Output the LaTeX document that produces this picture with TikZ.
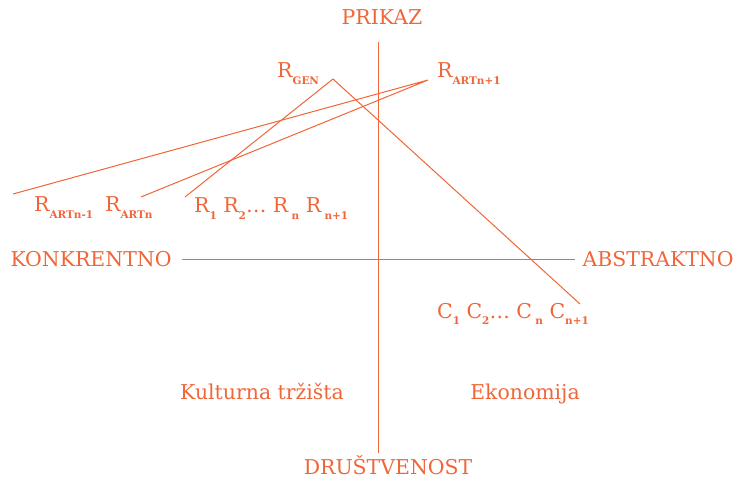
\documentclass[tikz,border=0pt]{standalone}
\usepackage{fontspec}
\setmainfont{DejaVu Serif}
\definecolor{ora}{RGB}{240,102,56}
\newcommand{\lowtxt}[1]{\raisebox{-6.5bp}{\fontsize{10.5}{10.5}\selectfont\bfseries #1}}
\begin{document}
\begin{tikzpicture}[x=1bp,y=-1bp,
  lab/.style={text=ora,font=\fontsize{20.5}{24}\selectfont,inner sep=0pt,anchor=base},
  ln/.style={draw=ora,line width=1bp}]
\useasboundingbox (0,0) rectangle (736,480);
% axis labels
\node[lab] (prikaz) at (382,25) {PRIKAZ};
\node[lab] (drus) at (388,474) {DRUŠTVENOST};
\node[lab] (konk) at (91,267) {KONKRENTNO};
\node[lab] (abs) at (658,267) {ABSTRAKTNO};
\node[lab] (kult) at (262,399) {Kulturna tržišta};
\node[lab] (eko) at (525,399) {Ekonomija};
% R and C labels
\node[lab,anchor=base west] (rgen) at (277,78) {R\lowtxt{GEN}};
\node[lab,anchor=base west] (rart1) at (437,78) {R\lowtxt{ARTn+1}};
\node[lab,anchor=base west] (rartm) at (34,212) {R\lowtxt{ARTn-1}};
\node[lab,anchor=base west] (rartn) at (105,212) {R\lowtxt{ARTn}};
\node[lab,anchor=base west] (rlist) at (194,213) {R\lowtxt{1} R\lowtxt{2}… R\,\lowtxt{n} R\,\lowtxt{n+1}};
\node[lab,anchor=base west] (clist) at (437,318) {C\lowtxt{1} C\lowtxt{2}… C\,\lowtxt{n} C\lowtxt{n+1}};
% axes
\coordinate (vtop) at (378,42);
\coordinate (vbot) at (378,453);
\coordinate (hl) at (182,260);
\coordinate (hr) at (575,260);
\draw[ln] (vtop) -- (vbot);
\draw[ln] (hl) -- (hr);
% connector apexes and ends
\coordinate (ag) at (333,79);
\coordinate (aa) at (428,80);
\coordinate (e1) at (13,194);
\coordinate (e2) at (141,197);
\coordinate (e3) at (185,197);
\coordinate (e4) at (580,304);
\draw[ln] (e1) -- (aa) -- (e2);
\draw[ln] (e3) -- (ag) -- (e4);
\end{tikzpicture}
\end{document}
